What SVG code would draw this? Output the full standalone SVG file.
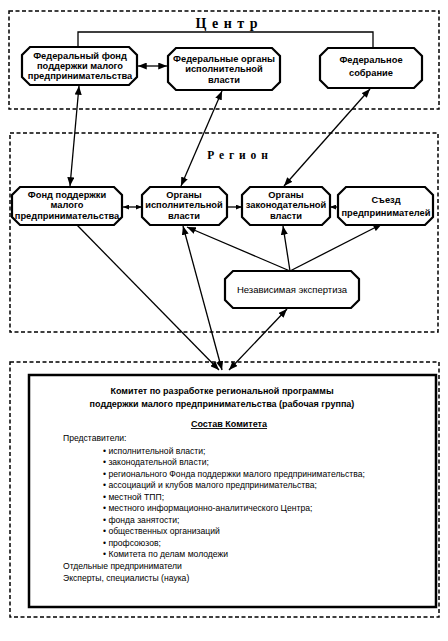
<svg xmlns="http://www.w3.org/2000/svg" width="448" height="641" viewBox="0 0 448 641">
<style>
.zone{fill:none;stroke:#000;stroke-width:1.5;stroke-dasharray:4 2.5}
.node{fill:#fff;stroke:#000;stroke-width:2.2}
.nt{font-family:"Liberation Sans",Arial,sans-serif;font-size:9.3px;font-weight:bold;text-anchor:middle;fill:#000}
.nn{font-family:"Liberation Sans",Arial,sans-serif;font-size:9.5px;text-anchor:middle;fill:#000}
.hd{font-family:"Liberation Serif","Times New Roman",serif;font-weight:bold;text-anchor:middle;fill:#000}
.ct{font-family:"Liberation Sans",Arial,sans-serif;font-size:8.6px;fill:#000}
.cb{font-family:"Liberation Sans",Arial,sans-serif;font-size:9px;font-weight:bold;text-anchor:middle;fill:#000}
.ln{fill:none;stroke:#000;stroke-width:1.3}
</style>
<defs>
<marker id="ah" viewBox="0 0 10 8" refX="10" refY="4" markerWidth="9" markerHeight="7" markerUnits="userSpaceOnUse" orient="auto-start-reverse">
<path d="M0,0 L10,4 L0,8 Z" fill="#000"/>
</marker>
<marker id="as" viewBox="0 0 10 8" refX="10" refY="4" markerWidth="6" markerHeight="5" markerUnits="userSpaceOnUse" orient="auto-start-reverse">
<path d="M0,0 L10,4 L0,8 Z" fill="#000"/>
</marker>
</defs>
<rect width="448" height="641" fill="#fff"/>

<g id="zone-center">
<rect class="zone" x="9" y="11" width="430" height="98"/>
<text class="hd" x="227" y="28" font-size="14" letter-spacing="1">Ц е н т р</text>
</g>
<g id="zone-region">
<rect class="zone" x="10" y="133" width="428" height="199"/>
<text class="hd" x="238" y="159" font-size="11.5" letter-spacing="1">Р е г и о н</text>
</g>
<g id="zone-committee">
<rect class="zone" x="10" y="362" width="429" height="255"/>
</g>

<g id="connectors">
<path class="ln" d="M78,47 V32 H373 V48"/>
<line class="ln" x1="79" y1="86" x2="70" y2="186" marker-start="url(#ah)" marker-end="url(#ah)"/>
<line class="ln" x1="222" y1="91" x2="181" y2="186" marker-start="url(#ah)" marker-end="url(#ah)"/>
<line class="ln" x1="370" y1="89" x2="284" y2="186" marker-start="url(#ah)" marker-end="url(#ah)"/>
<line class="ln" x1="138" y1="66" x2="167" y2="66" marker-start="url(#ah)" marker-end="url(#ah)"/>
<line class="ln" x1="123" y1="207" x2="142" y2="207" marker-start="url(#as)" marker-end="url(#as)"/>
<line class="ln" x1="227" y1="207" x2="242" y2="207" marker-end="url(#as)"/>
<line class="ln" x1="338" y1="207" x2="330" y2="207" marker-end="url(#as)"/>
<line class="ln" x1="290" y1="271" x2="187" y2="227" marker-end="url(#ah)"/>
<line class="ln" x1="290" y1="271" x2="283" y2="226" marker-end="url(#ah)"/>
<line class="ln" x1="290" y1="271" x2="382" y2="224" marker-end="url(#ah)"/>
<line class="ln" x1="76" y1="224" x2="219" y2="370" marker-end="url(#ah)"/>
<line class="ln" x1="183" y1="226" x2="222" y2="370" marker-start="url(#ah)" marker-end="url(#ah)"/>
<line class="ln" x1="287" y1="309" x2="229" y2="370" marker-start="url(#ah)" marker-end="url(#ah)"/>
</g>

<g id="fed-fund">
<polygon class="node" points="30,47 129,47 137,55 137,77 129,85 30,85 22,77 22,55"/>
<text class="nt" x="80" y="59">Федеральный фонд</text>
<text class="nt" x="80" y="69">поддержки малого</text>
<text class="nt" x="80" y="79">предпринимательства</text>
</g>
<g id="fed-organs">
<polygon class="node" points="176,48 272,48 280,56 280,82 272,90 176,90 168,82 168,56"/>
<text class="nt" x="224" y="62">Федеральные органы</text>
<text class="nt" x="224" y="72">исполнительной</text>
<text class="nt" x="224" y="83">власти</text>
</g>
<g id="fed-assembly">
<polygon class="node" points="328,48 414,48 422,56 422,80 414,88 328,88 320,80 320,56"/>
<text class="nt" x="371" y="63">Федеральное</text>
<text class="nt" x="371" y="76">собрание</text>
</g>

<g id="reg-fund">
<polygon class="node" points="20,187 114,187 122,195 122,217 114,225 20,225 12,217 12,195"/>
<text class="nt" x="67" y="198">Фонд поддержки</text>
<text class="nt" x="67" y="208">малого</text>
<text class="nt" x="67" y="219">предпринимательства</text>
</g>
<g id="reg-exec">
<polygon class="node" points="150,187 219,187 227,195 227,217 219,225 150,225 142,217 142,195"/>
<text class="nt" x="184" y="198">Органы</text>
<text class="nt" x="184" y="208">исполнительной</text>
<text class="nt" x="184" y="219">власти</text>
</g>
<g id="reg-leg">
<polygon class="node" points="250,187 322,187 330,195 330,217 322,225 250,225 242,217 242,195"/>
<text class="nt" x="286" y="198">Органы</text>
<text class="nt" x="286" y="208">законодательной</text>
<text class="nt" x="286" y="219">власти</text>
</g>
<g id="reg-congress">
<polygon class="node" points="346,187 425,187 433,195 433,217 425,225 346,225 338,217 338,195"/>
<text class="nt" x="386" y="203">Съезд</text>
<text class="nt" x="386" y="216">предпринимателей</text>
</g>
<g id="expertise">
<polygon class="node" points="233,271 351,271 359,279 359,300 351,308 233,308 225,300 225,279"/>
<text class="nn" x="292" y="293">Независимая экспертиза</text>
</g>

<g id="committee">
<rect x="29" y="375" width="407" height="232" fill="#fff" stroke="#000" stroke-width="2.5"/>
<text class="cb" x="222" y="394">Комитет по разработке региональной программы</text>
<text class="cb" x="222" y="407">поддержки малого предпринимательства (рабочая группа)</text>
<text class="cb" x="229" y="427" text-decoration="underline">Состав Комитета</text>
<text class="ct" x="63" y="441">Представители:</text>
<text class="ct" x="103" y="454">• исполнительной власти;</text>
<text class="ct" x="103" y="465">• законодательной власти;</text>
<text class="ct" x="103" y="477">• регионального Фонда поддержки малого предпринимательства;</text>
<text class="ct" x="103" y="488">• ассоциаций и клубов малого предпринимательства;</text>
<text class="ct" x="103" y="500">• местной ТПП;</text>
<text class="ct" x="103" y="511">• местного информационно-аналитического Центра;</text>
<text class="ct" x="103" y="523">• фонда занятости;</text>
<text class="ct" x="103" y="534">• общественных организаций</text>
<text class="ct" x="103" y="546">• профсоюзов;</text>
<text class="ct" x="103" y="557">• Комитета по делам молодежи</text>
<text class="ct" x="63" y="569">Отдельные предприниматели</text>
<text class="ct" x="63" y="581">Эксперты, специалисты (наука)</text>
</g>
</svg>
